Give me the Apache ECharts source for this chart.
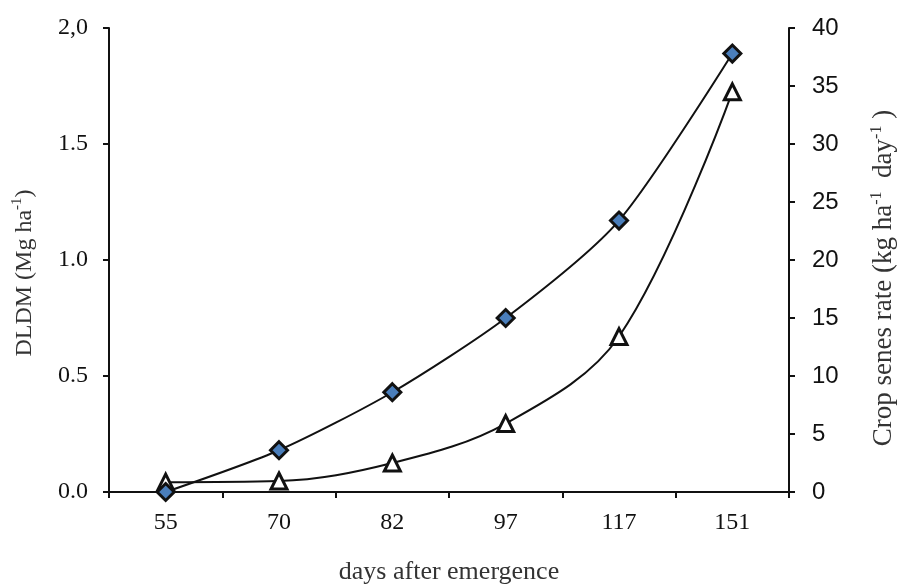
<!DOCTYPE html>
<html>
<head>
<meta charset="utf-8">
<script src="https://cdn.jsdelivr.net/npm/echarts@6/dist/echarts.min.js"></script>
<style>
  html, body { margin: 0; padding: 0; background: #fff; }
  #chart { width: 901px; height: 586px; }
</style>
</head>
<body>
<div id="chart"></div>
<script>
// 出苗后天数
var days = ['55', '70', '82', '97', '117', '151'];
// DLDM (Mg ha-1), left axis
var dldm = [0, 0.18, 0.43, 0.75, 1.17, 1.89];
// crop senescence rate (kg ha-1 day-1), right axis
var senesRate = [0.85, 0.95, 2.5, 5.9, 13.4, 34.5];
// left tick labels as printed (top one uses a comma)
var leftTicks = ['0.0', '0.5', '1.0', '1.5', '2,0'];

var myChart = echarts.init(document.getElementById('chart'));
var serif = '"Liberation Serif", "DejaVu Serif", serif';
var sans = '"Liberation Sans", Arial, sans-serif';
var ink = '#111';

var leftRich = {
    t: { fontFamily: serif, fontSize: 24, color: '#333', lineHeight: 30 },
    s: { fontFamily: serif, fontSize: 15, color: '#333', lineHeight: 30, verticalAlign: 'top' }
};
var rightRich = {
    t: { fontFamily: serif, fontSize: 27, color: '#333', lineHeight: 30 },
    s: { fontFamily: serif, fontSize: 16, color: '#333', lineHeight: 30, verticalAlign: 'top' }
};

var option = {
    animation: false,
    backgroundColor: '#fff',
    grid: { left: 109, right: 112, top: 28, bottom: 94, outerBoundsMode: 'none' },
    xAxis: {
        type: 'category',
        data: days,
        boundaryGap: true,
        name: 'days after emergence',
        nameLocation: 'middle',
        nameGap: 67,
        nameTextStyle: { fontFamily: serif, fontSize: 26, color: '#333' },
        axisLine: { lineStyle: { color: ink, width: 2 } },
        axisTick: { show: true, alignWithLabel: false, length: 6, lineStyle: { color: ink, width: 2 } },
        axisLabel: { fontFamily: serif, fontSize: 24, color: ink, margin: 19 },
        splitLine: { show: false }
    },
    yAxis: [{
        type: 'value',
        min: 0, max: 2, interval: 0.5,
        name: '{t|DLDM (Mg ha}{s|-1}{t|)}',
        nameLocation: 'middle',
        nameGap: 69,
        nameTextStyle: { rich: leftRich, padding: [0, 26, 0, 0] },
        axisLine: { show: true, lineStyle: { color: ink, width: 2 } },
        axisTick: { show: true, length: 6, lineStyle: { color: ink, width: 2 } },
        axisLabel: {
            fontFamily: serif, fontSize: 24, color: ink, margin: 21,
            formatter: function (v, i) { return leftTicks[i]; }
        },
        splitLine: { show: false }
    }, {
        type: 'value',
        min: 0, max: 40, interval: 5,
        position: 'right',
        name: '{t|Crop senes rate (kg ha}{s|-1}{t|  day}{s|-1}{t| )}',
        nameLocation: 'middle',
        nameGap: 80,
        nameRotate: 90,
        nameTextStyle: { rich: rightRich, padding: [0, 36, 0, 0] },
        axisLine: { show: true, lineStyle: { color: ink, width: 2 } },
        axisTick: { show: true, length: 6, lineStyle: { color: ink, width: 2 } },
        axisLabel: { fontFamily: sans, fontSize: 24, color: ink, margin: 23 },
        splitLine: { show: false }
    }],
    series: [{
        name: 'DLDM',
        type: 'line',
        data: dldm,
        yAxisIndex: 0,
        smooth: 0.25,
        symbol: 'diamond',
        symbolSize: 17,
        lineStyle: { color: ink, width: 2 },
        itemStyle: { color: '#4a7ebb', borderColor: ink, borderWidth: 3 },
        z: 3
    }, {
        name: 'senes',
        type: 'line',
        data: senesRate,
        yAxisIndex: 1,
        smooth: 0.35,
        symbol: 'triangle',
        symbolSize: 16,
        lineStyle: { color: ink, width: 2 },
        itemStyle: { color: '#fff', borderColor: ink, borderWidth: 3 },
        z: 2
    }]
};
myChart.setOption(option);
</script>
</body>
</html>
